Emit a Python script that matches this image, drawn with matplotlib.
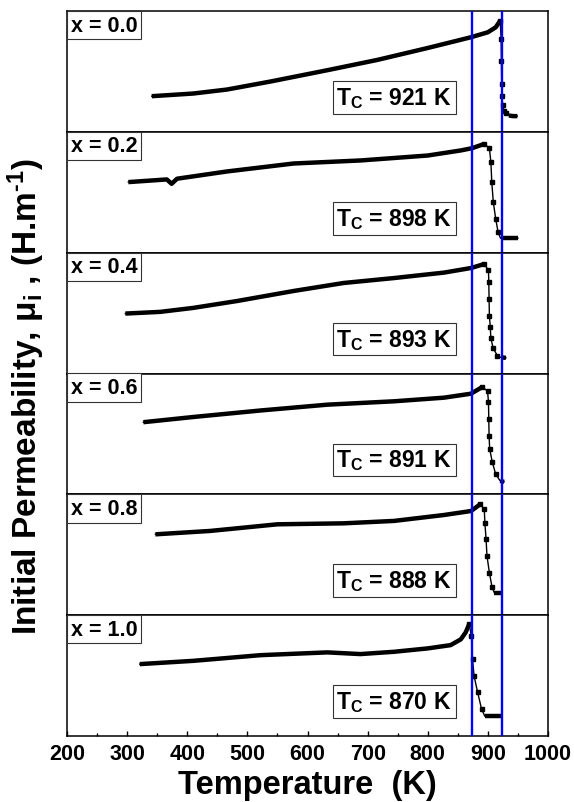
import numpy as np
import matplotlib
matplotlib.use("Agg")
import matplotlib.pyplot as plt
from matplotlib.ticker import MultipleLocator

plt.rcParams['font.family'] = ['Liberation Sans', 'DejaVu Sans']
plt.rcParams['font.weight'] = 'bold'
plt.rcParams['mathtext.fontset'] = 'custom'
plt.rcParams['mathtext.rm'] = 'Liberation Sans:bold'
plt.rcParams['mathtext.bf'] = 'Liberation Sans:bold'
plt.rcParams['mathtext.it'] = 'Liberation Sans:bold'

# ---------------- data (y in normalised panel units) ----
comp_labels = ['x = 0.0', 'x = 0.2', 'x = 0.4', 'x = 0.6', 'x = 0.8', 'x = 1.0']
tc_values = [921, 898, 893, 891, 888, 870]
tc_lines = [873, 924]

T_x00 = [341, 410, 466, 538, 633, 716, 800, 872, 900, 913, 920.5,
         922, 922.5, 923, 923.5, 924.5, 927, 930, 935, 942, 949]
mu_x00 = [0.295, 0.317, 0.35, 0.416, 0.51, 0.595, 0.694, 0.783, 0.824, 0.865, 0.92,
          0.77, 0.59, 0.40, 0.30, 0.22, 0.175, 0.155, 0.135, 0.13, 0.13]

T_x02 = [302, 366, 374, 383, 466, 577, 688, 800, 855, 874, 894, 902.5,
         905, 906.5, 909, 913, 917, 921, 930, 940, 950]
mu_x02 = [0.584, 0.606, 0.57, 0.612, 0.672, 0.738, 0.763, 0.804, 0.846, 0.865, 0.90, 0.865,
          0.75, 0.584, 0.42, 0.28, 0.17, 0.12, 0.12, 0.12, 0.12]

T_x04 = [297, 355, 410, 483, 577, 660, 744, 827, 872, 894, 901,
         901.5, 902, 902.5, 904, 905, 909, 916, 922, 930]
mu_x04 = [0.496, 0.51, 0.543, 0.60, 0.683, 0.749, 0.79, 0.835, 0.873, 0.906, 0.854,
          0.758, 0.62, 0.48, 0.386, 0.29, 0.207, 0.146, 0.133, 0.13]

T_x06 = [327, 410, 522, 633, 744, 827, 872, 891, 899.5,
         901, 901.5, 902, 903, 907.5, 913, 920.5, 927]
mu_x06 = [0.597, 0.64, 0.694, 0.742, 0.77, 0.80, 0.833, 0.889, 0.853,
          0.764, 0.625, 0.486, 0.375, 0.264, 0.167, 0.111, 0.103]

T_x08 = [347, 438, 550, 660, 744, 827, 872, 887, 894,
         895, 897, 898.5, 902.5, 907, 911, 916, 922]
mu_x08 = [0.669, 0.697, 0.752, 0.76, 0.78, 0.829, 0.862, 0.917, 0.876,
          0.766, 0.628, 0.49, 0.353, 0.229, 0.182, 0.182, 0.182]

T_x10 = [321, 410, 522, 633, 688, 744, 800, 838, 855, 863, 869,
         872.5, 874.5, 877, 883, 889.5, 895, 905, 915, 922]
mu_x10 = [0.595, 0.622, 0.669, 0.692, 0.678, 0.697, 0.725, 0.752, 0.80, 0.857, 0.926,
          0.829, 0.636, 0.498, 0.361, 0.223, 0.163, 0.163, 0.163, 0.163]

temps = [T_x00, T_x02, T_x04, T_x06, T_x08, T_x10]
mus = [mu_x00, mu_x02, mu_x04, mu_x06, mu_x08, mu_x10]

x_ticks = [200, 300, 400, 500, 600, 700, 800, 900, 1000]

# ---------------- figure ----------------
W, H = 574, 803
fig = plt.figure(figsize=(W / 100, H / 100), dpi=100)

left_px, right_px = 67, 548
top_px, bot_px = 12, 737
n = 6
ph = (bot_px - top_px) / n

axes = []
for i in range(n):
    y_top = top_px + i * ph
    ax = fig.add_axes([left_px / W, 1 - (y_top + ph) / H,
                       (right_px - left_px) / W, ph / H])
    axes.append(ax)

for i, ax in enumerate(axes):
    T = np.array(temps[i], dtype=float)
    mu = np.array(mus[i], dtype=float)
    k = int(np.argmax(mu))
    tail = mu <= mu.min() + 0.012
    drop = np.zeros(len(mu), dtype=bool)
    drop[k:] = True
    drop &= ~tail
    # thin connecting line
    ax.plot(T, mu, '-', color='black', lw=1.0, zorder=2)
    # square symbols in the sparse (steep) part
    ax.plot(T[drop], mu[drop], 's', color='black', ms=3.2, zorder=2)
    # dense (thick) part of the curve
    ax.plot(T[:k + 1], mu[:k + 1], '-', color='black', lw=3.2,
            solid_capstyle='butt', solid_joinstyle='round', zorder=2)
    ax.plot(T[tail], mu[tail], '-', color='black', lw=3.2,
            solid_capstyle='butt', zorder=2)
    for tl in tc_lines:
        ax.axvline(tl, color='#0000FF', lw=1.7, zorder=3)

    ax.set_xlim(200, 1000)
    ax.set_ylim(0, 1)
    ax.set_yticks([])
    for s in ax.spines.values():
        s.set_linewidth(1.1)
        s.set_color('black')

    ax.annotate(comp_labels[i], xy=(0, 1), xycoords='axes fraction',
                xytext=(2.6, -2.6), textcoords='offset points',
                ha='left', va='top', fontsize=15.5, fontweight='bold',
                bbox=dict(boxstyle='square,pad=0.17', fc='white',
                          ec='#333333', lw=0.8), zorder=5)

    ax.text(744, 0.285, r'T$_{\rm C}$ = %d K' % tc_values[i],
            transform=ax.get_xaxis_transform(), ha='center', va='center',
            fontsize=16.5, fontweight='bold',
            bbox=dict(boxstyle='square,pad=0.17', fc='white',
                      ec='#333333', lw=0.8), zorder=5)

    if i < n - 1:
        ax.set_xticks([])
    else:
        ax.set_xticks(x_ticks)
        ax.xaxis.set_minor_locator(MultipleLocator(50))
        ax.tick_params(axis='x', which='major', direction='in', length=3.5,
                       width=1.0, labelsize=15.5, pad=5)
        ax.tick_params(axis='x', which='minor', direction='in', length=2.5,
                       width=1.0)
        for lab in ax.get_xticklabels():
            lab.set_fontweight('bold')
        ax.set_xlabel('Temperature  (K)', fontsize=23.5, fontweight='bold',
                      labelpad=4)

fig.text(26 / W, 1 - 397 / H,
         r'Initial Permeability, μ$_{\rm i}$ , (H.m$^{\text{-1}}$)',
         rotation=90, ha='center', va='center', fontsize=24,
         fontweight='bold')

fig.savefig('out.png', dpi=100)
